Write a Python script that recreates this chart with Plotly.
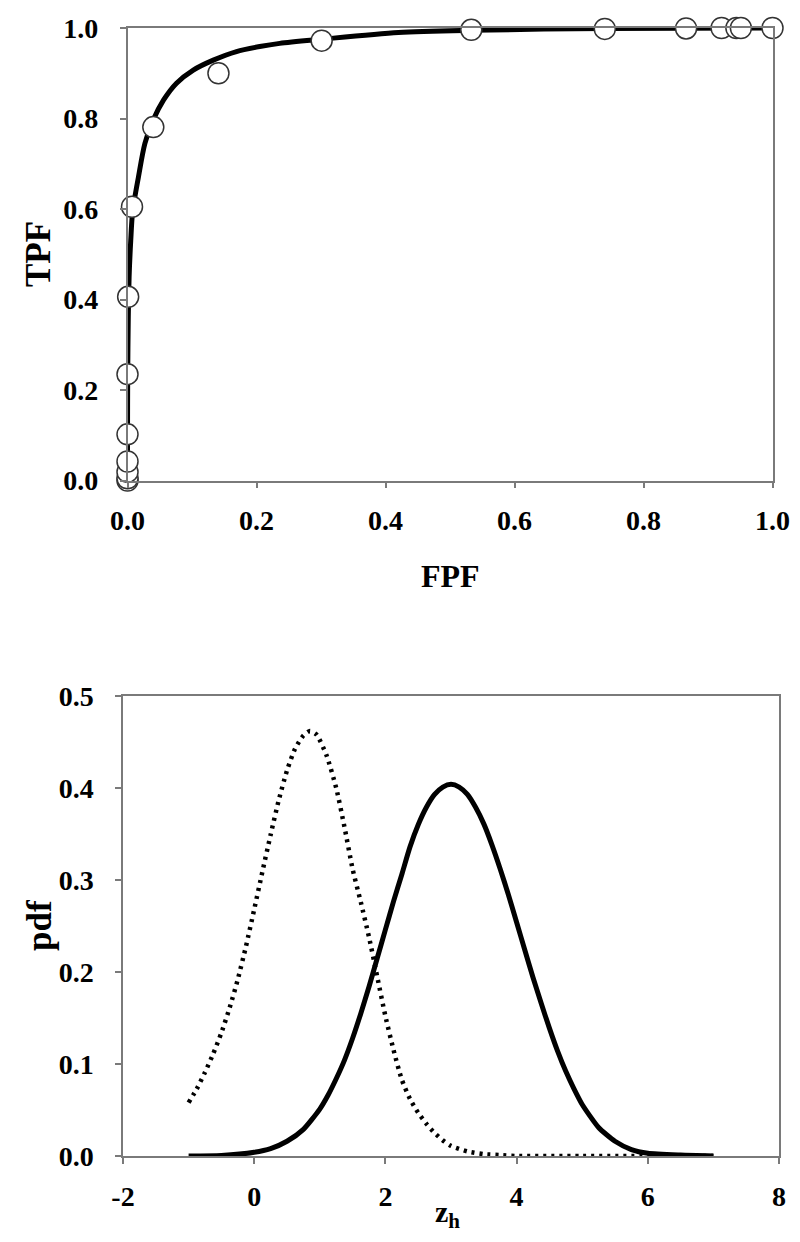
import plotly.graph_objects as go

# ---------------- Top panel: ROC ----------------
roc_fpf = [0.0, 0.0, 0.0, 0.0, 0.0, 0.0, 0.001, 0.007, 0.040, 0.141, 0.301,
           0.533, 0.740, 0.866, 0.921, 0.944, 0.951, 1.0]
roc_tpf = [0.0, 0.005, 0.019, 0.042, 0.102, 0.235, 0.406, 0.605, 0.781, 0.900, 0.972,
           0.996, 0.998, 0.999, 1.0, 1.0, 1.0, 1.0]

curve_fpf = [0.0, 0.00005, 0.0003, 0.0012, 0.0025, 0.005, 0.008, 0.017, 0.027, 0.040,
             0.056, 0.076, 0.102, 0.133, 0.169, 0.205, 0.236, 0.300, 0.420, 0.533,
             0.740, 1.0]
curve_tpf = [0.0, 0.10, 0.23, 0.36, 0.45, 0.53, 0.595, 0.671, 0.745, 0.797,
             0.841, 0.878, 0.907, 0.929, 0.948, 0.959, 0.966, 0.975, 0.990, 0.995,
             0.999, 1.0]

roc_ticks = [0.0, 0.2, 0.4, 0.6, 0.8, 1.0]

# ---------------- Bottom panel: pdfs ----------------
z_noise = [-1.0, -0.875, -0.75, -0.625, -0.5, -0.375, -0.25, -0.125, 0.0, 0.125, 0.25,
           0.375, 0.5, 0.625, 0.75, 0.85, 0.95, 1.1, 1.25, 1.375, 1.5, 1.625, 1.75,
           1.875, 2.0, 2.125, 2.25, 2.375, 2.5, 2.625, 2.75, 2.875, 3.0, 3.25, 3.5,
           3.75, 4.0, 5.0, 6.0, 7.0]
pdf_noise = [0.058, 0.073, 0.091, 0.111, 0.134, 0.161, 0.192, 0.228, 0.268, 0.309, 0.349,
             0.387, 0.419, 0.443, 0.457, 0.462, 0.458, 0.436, 0.400, 0.358, 0.312, 0.276, 0.238,
             0.195, 0.152, 0.115, 0.083, 0.062, 0.047, 0.035, 0.025, 0.017, 0.011, 0.005, 0.002,
             0.001, 0.0, 0.0, 0.0, 0.0]

z_signal = [-1.0, -0.5, 0.0, 0.25, 0.5, 0.75, 1.0, 1.125, 1.25, 1.375, 1.5, 1.625, 1.75,
            1.875, 2.0, 2.125, 2.25, 2.375, 2.5, 2.625, 2.75, 2.875, 3.0, 3.125, 3.25,
            3.375, 3.5, 3.625, 3.75, 3.875, 4.0, 4.125, 4.25, 4.375, 4.5, 4.625, 4.75,
            4.875, 5.0, 5.25, 5.5, 5.75, 6.0, 6.5, 7.0]
pdf_signal = [0.0, 0.0005, 0.004, 0.008, 0.016, 0.029, 0.051, 0.066, 0.084, 0.104, 0.128, 0.155, 0.184,
              0.215, 0.246, 0.277, 0.306, 0.336, 0.360, 0.379, 0.393, 0.401, 0.404, 0.401, 0.393,
              0.379, 0.361, 0.338, 0.312, 0.284, 0.254, 0.224, 0.194, 0.166, 0.139, 0.114, 0.092,
              0.073, 0.056, 0.031, 0.016, 0.007, 0.003, 0.001, 0.0]

pdf_xticks = [-2, 0, 2, 4, 6, 8]
pdf_xtick_labels = ["-2", "0", "2", "4", "6", "8"]
pdf_yticks = [0.0, 0.1, 0.2, 0.3, 0.4, 0.5]

# The page body has an 8px margin; the figure fills the rest of the 800x1242 window.
OFF = 8
W, H = 800 - 2 * OFF, 1242 - 2 * OFF
FONT = "Liberation Serif"
AX = "#7a7a7a"


def px(x):
    return (x - OFF) / W


def py(y):
    return 1 - (y - OFF) / H


fig = go.Figure()
fig.add_trace(go.Scatter(x=curve_fpf, y=curve_tpf, mode="lines",
                         line=dict(color="black", width=5, shape="spline", smoothing=0.8),
                         xaxis="x", yaxis="y", hoverinfo="skip"))
fig.add_trace(go.Scatter(x=roc_fpf, y=roc_tpf, mode="markers",
                         marker=dict(size=21, color="white", line=dict(color="#333333", width=1.5)),
                         cliponaxis=False, xaxis="x", yaxis="y"))
fig.add_trace(go.Scatter(x=z_noise, y=pdf_noise, mode="lines",
                         line=dict(color="black", width=4.5, dash="3px,5px", shape="spline", smoothing=0.6),
                         xaxis="x2", yaxis="y2"))
fig.add_trace(go.Scatter(x=z_signal, y=pdf_signal, mode="lines",
                         line=dict(color="black", width=5, shape="spline", smoothing=0.6),
                         xaxis="x2", yaxis="y2"))

common = dict(showline=True, linecolor=AX, linewidth=1.5, mirror=True,
              ticks="outside", ticklen=6, tickcolor=AX, tickwidth=1.5,
              showgrid=False, zeroline=False, automargin=False,
              tickfont=dict(family=FONT, size=28, color="black", weight="bold"))

fig.update_layout(
    width=W, height=H,
    margin=dict(l=0, r=0, t=0, b=0),
    paper_bgcolor="white", plot_bgcolor="white",
    showlegend=False,
    xaxis=dict(domain=[px(127.5), px(772.5)], range=[0, 1], anchor="y",
               tickvals=roc_ticks, tickformat=".1f", ticklabelstandoff=8, **common),
    yaxis=dict(domain=[py(480.5), py(28)], range=[0, 1], anchor="x",
               tickvals=roc_ticks, tickformat=".1f", ticklabelstandoff=16, **common),
    xaxis2=dict(domain=[px(123), px(779)], range=[-2, 8], anchor="y2",
                tickvals=pdf_xticks, ticktext=pdf_xtick_labels, ticklabelstandoff=9, **common),
    yaxis2=dict(domain=[py(1156), py(696)], range=[0, 0.5], anchor="x2",
                tickvals=pdf_yticks, tickformat=".1f", ticklabelstandoff=16, **common),
)

annots = [
    dict(text="<b>TPF</b>", x=px(38), y=py(254), textangle=-90, size=35),
    dict(text="<b>FPF</b>", x=px(450), y=py(576), textangle=0, size=32),
    dict(text="<b>pdf</b>", x=px(40), y=py(925), textangle=-90, size=35),
    dict(text="<b>z<sub>h</sub></b>", x=px(447), y=py(1214), textangle=0, size=30),
]
for a in annots:
    size = a.pop("size")
    fig.add_annotation(xref="paper", yref="paper", showarrow=False,
                       xanchor="center", yanchor="middle",
                       font=dict(family=FONT, size=size, color="black"), **a)

fig.write_html("out.html")
